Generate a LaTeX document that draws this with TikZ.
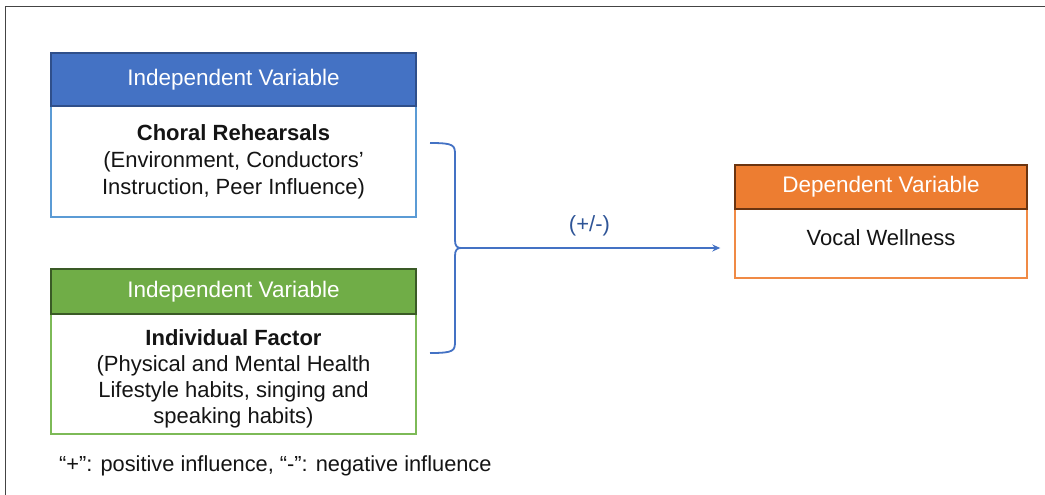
\documentclass[tikz,border=0pt]{standalone}
\usepackage{fontspec}
\setmainfont{Liberation Sans}
\usetikzlibrary{arrows.meta}
\definecolor{bhead}{HTML}{4472C4}
\definecolor{bdark}{HTML}{2F4F8A}
\definecolor{bbody}{HTML}{5B9BD5}
\definecolor{ghead}{HTML}{70AD47}
\definecolor{gdark}{HTML}{3A5A26}
\definecolor{gbody}{HTML}{7DBA57}
\definecolor{ohead}{HTML}{ED7D31}
\definecolor{odark}{HTML}{6B3410}
\definecolor{obody}{HTML}{F08A45}
\definecolor{arrowblue}{HTML}{4472C4}
\definecolor{lblblue}{HTML}{2F5597}
\definecolor{frame}{HTML}{444444}
\tikzset{
  headbox/.style={draw, line width=1.6pt, minimum width=365pt, inner sep=0pt,
    text=white, font=\fontsize{22.5}{26}\selectfont},
  bodybox/.style={draw, fill=white, line width=1.4pt, minimum width=365pt, inner sep=0pt},
  bodytext/.style={align=center, inner sep=0pt, text=black!92},
  conn/.style={draw=arrowblue, line width=1.8pt},
}
\begin{document}
\begin{tikzpicture}[x=1pt,y=-1pt]
\useasboundingbox (0,0) rectangle (1045,495);
% outer frame
\draw[frame, line width=1pt] (5,495) -- (5,7) -- (1045,7);
% Box 1
\node[bodybox, draw=bbody, minimum height=111pt] (b1body) at (233.5,161.5) {};
\node[headbox, fill=bhead, draw=bdark, minimum height=53pt] (b1head) at (233.5,79.5) {Independent Variable};
\node[bodytext, font=\fontsize{22}{27}\selectfont] (b1text) at (233.5,162) {\textbf{Choral Rehearsals}\\(Environment, Conductors’\\Instruction, Peer Influence)};
% Box 2
\node[bodybox, draw=gbody, minimum height=120pt] (b2body) at (233.5,374) {};
\node[headbox, fill=ghead, draw=gdark, minimum height=45pt] (b2head) at (233.5,291.5) {Independent Variable};
\node[bodytext, font=\fontsize{22}{26}\selectfont] (b2text) at (233.5,379) {\textbf{Individual Factor}\\(Physical and Mental Health\\Lifestyle habits, singing and\\speaking habits)};
% Box 3
\node[bodybox, draw=obody, minimum width=292pt, minimum height=69pt] (b3body) at (881,243.5) {};
\node[headbox, fill=ohead, draw=odark, minimum width=292pt, minimum height=44pt] (b3head) at (881,187) {Dependent Variable};
\node[bodytext, font=\fontsize{22}{26}\selectfont] (b3text) at (881,238) {Vocal Wellness};
% bracket
\coordinate (btop) at (430,143);
\coordinate (bbot) at (430,353);
\coordinate (cusp) at (461,248);
\draw[conn, line join=round] (btop) .. controls (454,143) and (455,145) .. (455,155)
  -- (455,240) .. controls (455,246) and (457,248) .. (cusp)
  .. controls (457,248) and (455,250) .. (455,256)
  -- (455,341) .. controls (455,351) and (454,353) .. (bbot);
\draw[conn, shorten >=14pt, -{Stealth[length=8pt,width=7pt]}] (cusp) -- (b3body.west |- cusp) node[pos=0.47, above=8pt, text=lblblue, font=\fontsize{22}{26}\selectfont] (lbl) {(+/-)};
% footnote
\node[anchor=west, inner sep=0pt, text=black!92, font=\fontsize{21.8}{25}\selectfont] (note) at (59,466) {“+”: positive influence, “-”: negative influence};
\end{tikzpicture}
\end{document}
